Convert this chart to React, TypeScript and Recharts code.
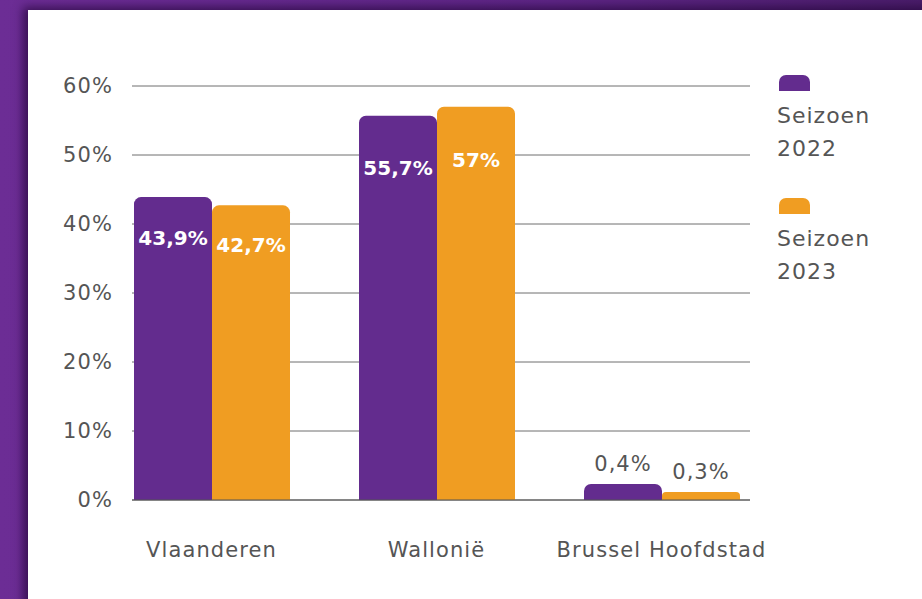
import { BarChart, Bar, XAxis, YAxis, CartesianGrid, Legend, LabelList } from 'recharts'

const regions = ['Vlaanderen', 'Wallonië', 'Brussel Hoofdstad']
const season2022 = [43.9, 55.7, 0.4]
const season2023 = [42.7, 57, 0.3]
const yTicks = [0, 10, 20, 30, 40, 50, 60]

const PURPLE = '#632c8e'
const ORANGE = '#f09d22'
const GREY = '#555555'
const FONT = '"DejaVu Sans", sans-serif'

const data = regions.map((region, i) => ({
  region,
  s2022: season2022[i],
  s2023: season2023[i],
}))

const pct = (v: number) => String(v).replace('.', ',') + '%'

function ValueLabel(props: any) {
  const { x, y, width, height, value } = props
  const small = value < 5
  return (
    <text
      x={x + width / 2}
      y={small ? y - 19 : y + height * 0.14}
      textAnchor="middle"
      dominantBaseline="middle"
      fill={small ? GREY : '#ffffff'}
      fontSize={small ? 21 : 20}
      letterSpacing={small ? 1 : 0}
      fontWeight={small ? 400 : 600}
      fontFamily={FONT}
    >
      {pct(value)}
    </text>
  )
}

function SeasonLegend({ payload }: any) {
  return (
    <div style={{ fontFamily: FONT, color: GREY, fontSize: 22, letterSpacing: 1, lineHeight: '33px' }}>
      {(payload || []).map((item: any) => (
        <div key={item.value} style={{ marginBottom: 33 }}>
          <div
            style={{
              width: 31,
              height: 16,
              background: item.color,
              borderRadius: '7px 7px 0 0',
              marginLeft: 2,
              marginBottom: 8,
            }}
          />
          {String(item.value).split(' ').map((line) => (
            <div key={line}>{line}</div>
          ))}
        </div>
      ))}
    </div>
  )
}

const axisTick = { fill: GREY, fontSize: 21, fontFamily: FONT, letterSpacing: 1.1 }

export default function App() {
  return (
    <div
      style={{
        position: 'absolute',
        top: 0,
        left: 0,
        width: 922,
        height: 599,
        overflow: 'hidden',
        background: 'linear-gradient(90deg, #6c2d95 0%, #5e2686 60%, #4a1d6a 100%)',
      }}
    >
      <div
        style={{
          position: 'absolute',
          top: 10,
          left: 28,
          width: 920,
          height: 620,
          background: '#ffffff',
          boxShadow: '-5px -3px 9px rgba(35, 5, 55, 0.7)',
        }}
      />
      <div style={{ position: 'absolute', top: 0, left: 0 }}>
        <BarChart
          width={922}
          height={599}
          data={data}
          barSize={78}
          barGap={0}
          margin={{ top: 86, right: 42, bottom: 39, left: 0 }}
        >
          <CartesianGrid horizontal vertical={false} stroke="#6f6f6f" />
          <XAxis
            dataKey="region"
            padding={{ left: -33, right: -24 }}
            axisLine={{ stroke: GREY }}
            tickLine={false}
            tickMargin={36}
            height={60}
            tick={axisTick}
          />
          <YAxis
            domain={[0, 60]}
            ticks={yTicks}
            width={132}
            axisLine={false}
            tickLine={false}
            tickMargin={13}
            tickFormatter={(v) => `${v}%`}
            tick={axisTick}
          />
          <Legend
            layout="vertical"
            verticalAlign="top"
            align="right"
            content={<SeasonLegend />}
            wrapperStyle={{ top: 75, left: 777, width: 130 }}
          />
          <Bar dataKey="s2022" name="Seizoen 2022" fill={PURPLE} radius={[7, 7, 0, 0]} minPointSize={16} isAnimationActive={false}>
            <LabelList dataKey="s2022" content={<ValueLabel />} />
          </Bar>
          <Bar dataKey="s2023" name="Seizoen 2023" fill={ORANGE} radius={[7, 7, 0, 0]} minPointSize={8} isAnimationActive={false}>
            <LabelList dataKey="s2023" content={<ValueLabel />} />
          </Bar>
        </BarChart>
      </div>
    </div>
  )
}
